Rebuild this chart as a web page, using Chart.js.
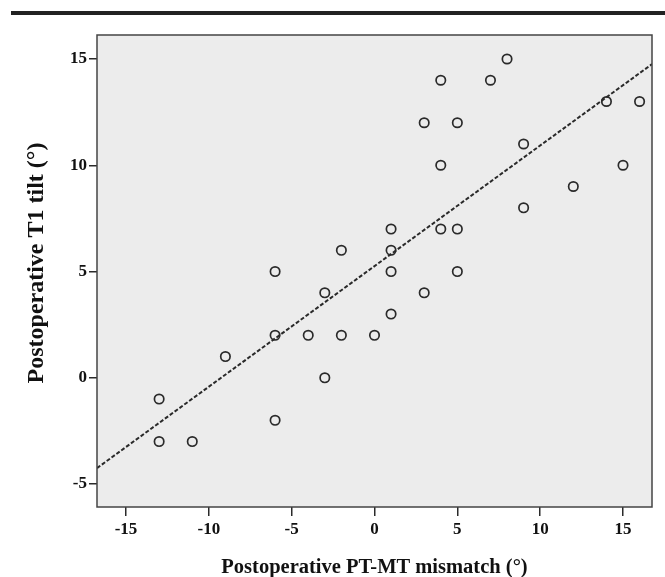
<!DOCTYPE html>
<html>
<head>
<meta charset="utf-8">
<script src="https://cdn.jsdelivr.net/npm/chart.js@4.4.1/dist/chart.umd.min.js"></script>
<style>
  html, body { margin: 0; padding: 0; background: #fff; }
  #wrap { position: relative; width: 665px; height: 577px; }
  #topbar { position: absolute; left: 11px; top: 11px; width: 654px; height: 4px; background: #222; }
  canvas { position: absolute; left: 0; top: 0; }
</style>
</head>
<body>
<div id="wrap">
  <div id="topbar"></div>
  <canvas id="scatter" width="665" height="577"></canvas>
</div>
<script>
// Postoperative PT-MT mismatch (x) vs Postoperative T1 tilt (y)
const mismatch = [-13, -13, -11, -9, -6, -6, -6, -4, -3, -3, -2, -2, 0, 1, 1, 1, 1, 3, 3, 4, 4, 4, 5, 5, 5, 7, 8, 9, 9, 12, 14, 15, 16];
const t1Tilt   = [-1, -3, -3, 1, 5, 2, -2, 2, 4, 0, 6, 2, 2, 7, 6, 5, 3, 12, 4, 14, 10, 7, 12, 7, 5, 14, 15, 11, 8, 9, 13, 10, 13];

// fit line end points
const fitX = [-16.75, 16.75];
const fitY = [-4.25, 14.76];

const xTicks = [-15, -10, -5, 0, 5, 10, 15];
const yTicks = [-5, 0, 5, 10, 15];

const yTitle = 'Postoperative T1 tilt (°)';

const ink = '#2a2a2a';
const serif = "'Liberation Serif', 'Times New Roman', serif";

// grey plot area + frame, y title drawn by hand (sits a bit above centre)
const plotFrame = {
  id: 'plotFrame',
  beforeDraw(chart) {
    const { ctx, chartArea: a } = chart;
    ctx.save();
    ctx.fillStyle = '#ececec';
    ctx.fillRect(a.left, a.top, a.right - a.left, a.bottom - a.top);
    ctx.restore();
  },
  afterDraw(chart) {
    const { ctx, chartArea: a } = chart;
    ctx.save();
    ctx.strokeStyle = '#444';
    ctx.lineWidth = 1.5;
    ctx.strokeRect(a.left, a.top, a.right - a.left, a.bottom - a.top);

    ctx.translate(36.5, 263);
    ctx.rotate(-Math.PI / 2);
    ctx.fillStyle = '#111';
    ctx.font = 'bold 24px ' + serif;
    ctx.textAlign = 'center';
    ctx.textBaseline = 'middle';
    ctx.fillText(yTitle, 0, 0);
    ctx.restore();
  }
};

const ctx = document.getElementById('scatter').getContext('2d');
new Chart(ctx, {
  type: 'scatter',
  data: {
    datasets: [{
      type: 'line',
      data: fitX.map((x, i) => ({ x: x, y: fitY[i] })),
      borderColor: ink,
      borderWidth: 2,
      borderDash: [4, 2],
      pointRadius: 0,
      fill: false,
      order: 2
    }, {
      data: mismatch.map((x, i) => ({ x: x, y: t1Tilt[i] })),
      pointRadius: 4.7,
      pointBorderWidth: 1.7,
      pointBorderColor: ink,
      pointBackgroundColor: 'rgba(0,0,0,0)',
      order: 1
    }]
  },
  options: {
    responsive: false,
    animation: false,
    layout: { padding: { top: 35, right: 13, left: 0, bottom: 0 } },
    plugins: { legend: { display: false }, tooltip: { enabled: false } },
    scales: {
      x: {
        type: 'linear',
        min: -16.75,
        max: 16.75,
        afterBuildTicks: s => { s.ticks = xTicks.map(v => ({ value: v })); },
        afterFit: s => { s.height = 70; },
        grid: { display: true, drawOnChartArea: false, drawTicks: true, tickLength: 9, color: ink, lineWidth: 1.5 },
        border: { display: false },
        ticks: { color: '#111', padding: 3, font: { family: serif, size: 17, weight: 'bold' } },
        title: { display: true, text: 'Postoperative PT-MT mismatch (°)', color: '#111', padding: { top: 0, bottom: 0 },
                 font: { family: serif, size: 20.5, weight: 'bold', lineHeight: 0.9 } }
      },
      y: {
        type: 'linear',
        min: -6.08,
        max: 16.13,
        afterBuildTicks: s => { s.ticks = yTicks.map(v => ({ value: v })); },
        afterFit: s => { s.width = 97; },
        grid: { display: true, drawOnChartArea: false, drawTicks: true, tickLength: 8, color: ink, lineWidth: 1.5 },
        border: { display: false },
        ticks: { color: '#111', padding: 2, font: { family: serif, size: 17, weight: 'bold' } },
        title: { display: false }
      }
    }
  },
  plugins: [plotFrame]
});
</script>
</body>
</html>
